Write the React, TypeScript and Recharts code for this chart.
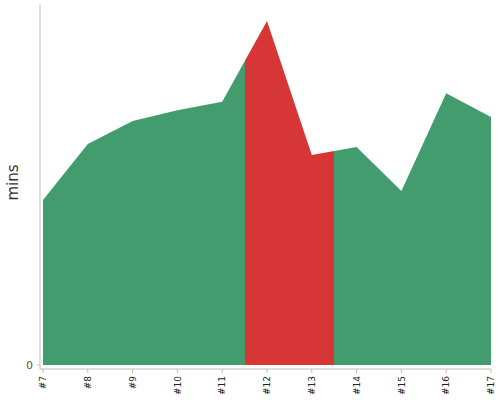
import { AreaChart, Area, XAxis, YAxis, Label } from "recharts"

// build numbers on the x axis, minutes on the y axis
const builds = [7, 8, 9, 10, 11, 12, 13, 14, 15, 16, 17]
const minutes = [45.7, 61.2, 67.6, 70.6, 72.9, 95.3, 58.2, 60.4, 48.2, 75.3, 68.7]
// builds that are drawn in red
const slowBuilds = [12, 13]

const data = builds.map((b, i) => ({ build: b, mins: minutes[i] }))

const GREEN = "#439C6E"
const RED = "#D73636"
const AXIS = "#BDBDBD"

const first = builds[0]
const last = builds[builds.length - 1]
const span = last - first
const redFrom = (Math.min(...slowBuilds) - 0.5 - first) / span
const redTo = (Math.max(...slowBuilds) + 0.5 - first) / span

const BuildTick = ({ x, y, payload }: any) => (
    <text x={x} y={y} transform={`rotate(-90, ${x}, ${y})`} textAnchor="end" dy="0.35em" fontSize={9} fill="#222" fontFamily="DejaVu Sans">
        #{payload.value}
    </text>
)

export default function App() {
    return (
        <div style={{ position: "absolute", left: 0, top: 0 }}>
            <AreaChart width={500} height={400} data={data} margin={{ top: 4, right: 9, bottom: 0, left: 0 }}>
                <defs>
                    <linearGradient id="buildFill" x1="0" y1="0" x2="1" y2="0">
                        <stop offset={0} stopColor={GREEN} />
                        <stop offset={redFrom} stopColor={GREEN} />
                        <stop offset={redFrom} stopColor={RED} />
                        <stop offset={redTo} stopColor={RED} />
                        <stop offset={redTo} stopColor={GREEN} />
                        <stop offset={1} stopColor={GREEN} />
                    </linearGradient>
                </defs>
                <XAxis
                    dataKey="build"
                    type="number"
                    domain={[first, last]}
                    ticks={builds}
                    interval={0}
                    padding={{ left: 3, right: 0 }}
                    height={31}
                    stroke={AXIS}
                    tickSize={4}
                    tickMargin={3}
                    tick={<BuildTick />}
                />
                <YAxis
                    domain={[0, 100]}
                    ticks={[0]}
                    width={40}
                    padding={{ top: 0, bottom: 4 }}
                    stroke={AXIS}
                    tickSize={3}
                    tickMargin={4}
                    tick={{ fontSize: 11, fill: "#555", fontFamily: "DejaVu Sans" }}
                >
                    <Label value="mins" angle={-90} position="center" dx={-7} dy={-4} style={{ fontSize: 15, fill: "#333", fontFamily: "DejaVu Sans" }} />
                </YAxis>
                <Area
                    type="linear"
                    dataKey="mins"
                    stroke="none"
                    fill="url(#buildFill)"
                    fillOpacity={1}
                    isAnimationActive={false}
                />
            </AreaChart>
        </div>
    )
}
